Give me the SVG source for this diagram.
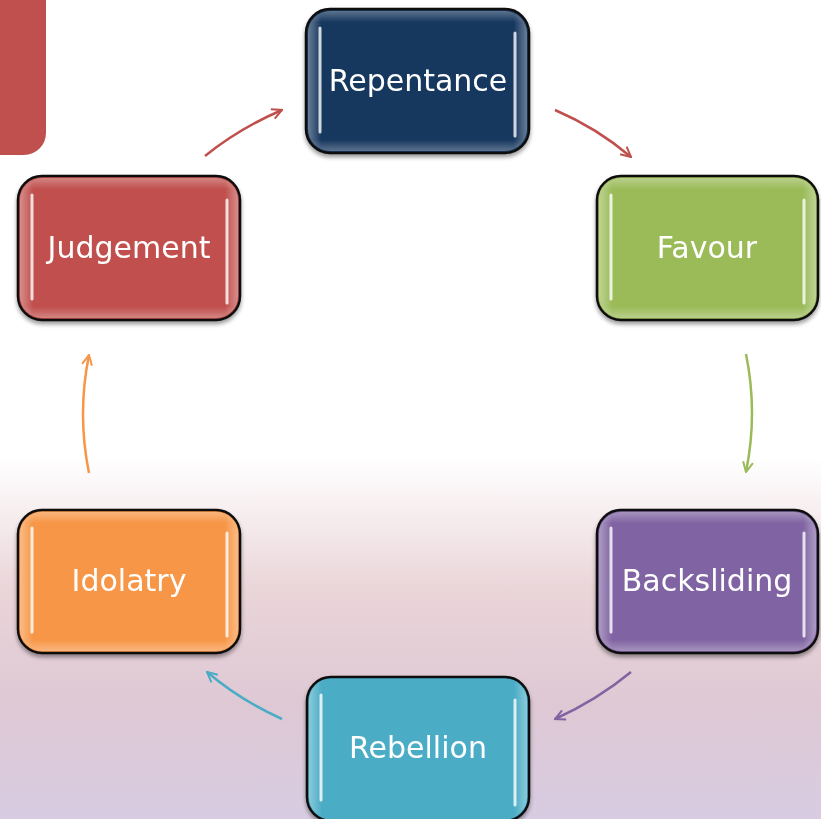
<svg xmlns="http://www.w3.org/2000/svg" width="821" height="819" viewBox="0 0 821 819">
<defs>
<linearGradient id="bg" x1="0" y1="0" x2="0" y2="819" gradientUnits="userSpaceOnUse">
<stop offset="0" stop-color="#ffffff"/>
<stop offset="0.56" stop-color="#ffffff"/>
<stop offset="0.72" stop-color="#ead5d9"/>
<stop offset="0.86" stop-color="#dec8d4"/>
<stop offset="1" stop-color="#d8cce2"/>
</linearGradient>
<linearGradient id="glow" x1="0" y1="0" x2="1" y2="0">
<stop offset="0" stop-color="#fff" stop-opacity="0.35"/>
<stop offset="0.06" stop-color="#fff" stop-opacity="0"/>
<stop offset="0.94" stop-color="#fff" stop-opacity="0"/>
<stop offset="1" stop-color="#fff" stop-opacity="0.35"/>
</linearGradient>
<linearGradient id="glowv" x1="0" y1="0" x2="0" y2="1">
<stop offset="0" stop-color="#fff" stop-opacity="0.3"/>
<stop offset="0.08" stop-color="#fff" stop-opacity="0"/>
<stop offset="0.92" stop-color="#fff" stop-opacity="0"/>
<stop offset="1" stop-color="#fff" stop-opacity="0.3"/>
</linearGradient>
<filter id="sh" x="-10%" y="-10%" width="120%" height="130%">
<feGaussianBlur in="SourceAlpha" stdDeviation="2"/>
<feOffset dy="3"/>
<feComponentTransfer><feFuncA type="linear" slope="0.4"/></feComponentTransfer>
<feMerge><feMergeNode/><feMergeNode in="SourceGraphic"/></feMerge>
</filter>
<marker id="mr" viewBox="0 0 10 10" refX="9" refY="5" markerWidth="5" markerHeight="5" orient="auto"><path d="M1,1 L9,5 L1,9" fill="none" stroke="#c0504d" stroke-width="1.6"/></marker>
<marker id="mg" viewBox="0 0 10 10" refX="9" refY="5" markerWidth="5" markerHeight="5" orient="auto"><path d="M1,1 L9,5 L1,9" fill="none" stroke="#9bbb59" stroke-width="1.6"/></marker>
<marker id="mp" viewBox="0 0 10 10" refX="9" refY="5" markerWidth="5" markerHeight="5" orient="auto"><path d="M1,1 L9,5 L1,9" fill="none" stroke="#8064a2" stroke-width="1.6"/></marker>
<marker id="mt" viewBox="0 0 10 10" refX="9" refY="5" markerWidth="5" markerHeight="5" orient="auto"><path d="M1,1 L9,5 L1,9" fill="none" stroke="#4bacc6" stroke-width="1.6"/></marker>
<marker id="mo" viewBox="0 0 10 10" refX="9" refY="5" markerWidth="5" markerHeight="5" orient="auto"><path d="M1,1 L9,5 L1,9" fill="none" stroke="#f79646" stroke-width="1.6"/></marker>
</defs>
<style>
.box{stroke:#111;stroke-width:2.5}
.hl{stroke:#fff;stroke-width:3;stroke-linecap:round;opacity:0.8}
.lbl{font-family:"DejaVu Sans",Verdana,sans-serif;font-size:30px;fill:#fff;text-anchor:middle;dominant-baseline:central}
.c{fill:none;stroke-width:2.5}
</style>
<rect x="0" y="0" width="821" height="819" fill="url(#bg)"/>
<path d="M0,0 H46 V133 A22,22 0 0 1 24,155 H0 Z" fill="#c0504d"/>

<g id="connectors">
<path class="c" d="M205,156 Q240,128 282,110" stroke="#c0504d" marker-end="url(#mr)"/>
<path class="c" d="M555,110 Q597,128 631,157" stroke="#c0504d" marker-end="url(#mr)"/>
<path class="c" d="M746,354 Q758,413 746,472" stroke="#9bbb59" marker-end="url(#mg)"/>
<path class="c" d="M631,672 Q597,700 555,719" stroke="#8064a2" marker-end="url(#mp)"/>
<path class="c" d="M282,719 Q240,700 207,672" stroke="#4bacc6" marker-end="url(#mt)"/>
<path class="c" d="M89,473 Q77,414 89,355" stroke="#f79646" marker-end="url(#mo)"/>
</g>

<g id="repentance" filter="url(#sh)">
<rect class="box" x="306" y="9" width="223" height="144" rx="24" fill="#17375e"/>
<rect x="308" y="11" width="219" height="140" rx="22" fill="url(#glow)"/>
<rect x="308" y="11" width="219" height="140" rx="22" fill="url(#glowv)"/>
<line class="hl" x1="320" y1="28" x2="320" y2="132"/>
<line class="hl" x1="515" y1="33" x2="515" y2="136"/>
<text class="lbl" x="418" y="80">Repentance</text>
</g>

<g id="favour" filter="url(#sh)">
<rect class="box" x="597" y="176" width="221" height="144" rx="24" fill="#9bbb59"/>
<rect x="599" y="178" width="217" height="140" rx="22" fill="url(#glow)"/>
<rect x="599" y="178" width="217" height="140" rx="22" fill="url(#glowv)"/>
<line class="hl" x1="611" y1="195" x2="611" y2="299"/>
<line class="hl" x1="804" y1="200" x2="804" y2="303"/>
<text class="lbl" x="707" y="247">Favour</text>
</g>

<g id="backsliding" filter="url(#sh)">
<rect class="box" x="597" y="510" width="221" height="143" rx="24" fill="#8064a2"/>
<rect x="599" y="512" width="217" height="139" rx="22" fill="url(#glow)"/>
<rect x="599" y="512" width="217" height="139" rx="22" fill="url(#glowv)"/>
<line class="hl" x1="611" y1="528" x2="611" y2="632"/>
<line class="hl" x1="804" y1="533" x2="804" y2="636"/>
<text class="lbl" x="707" y="580">Backsliding</text>
</g>

<g id="rebellion" filter="url(#sh)">
<rect class="box" x="307" y="677" width="222" height="144" rx="24" fill="#4bacc6"/>
<rect x="309" y="679" width="218" height="140" rx="22" fill="url(#glow)"/>
<line class="hl" x1="321" y1="695" x2="321" y2="800"/>
<line class="hl" x1="515" y1="700" x2="515" y2="805"/>
<text class="lbl" x="418" y="747">Rebellion</text>
</g>

<g id="idolatry" filter="url(#sh)">
<rect class="box" x="18" y="510" width="222" height="143" rx="24" fill="#f79646"/>
<rect x="20" y="512" width="218" height="139" rx="22" fill="url(#glow)"/>
<rect x="20" y="512" width="218" height="139" rx="22" fill="url(#glowv)"/>
<line class="hl" x1="32" y1="528" x2="32" y2="632"/>
<line class="hl" x1="227" y1="533" x2="227" y2="636"/>
<text class="lbl" x="129" y="580">Idolatry</text>
</g>

<g id="judgement" filter="url(#sh)">
<rect class="box" x="18" y="176" width="222" height="144" rx="24" fill="#c0504d"/>
<rect x="20" y="178" width="218" height="140" rx="22" fill="url(#glow)"/>
<rect x="20" y="178" width="218" height="140" rx="22" fill="url(#glowv)"/>
<line class="hl" x1="32" y1="195" x2="32" y2="299"/>
<line class="hl" x1="227" y1="200" x2="227" y2="303"/>
<text class="lbl" x="129" y="247">Judgement</text>
</g>
</svg>
